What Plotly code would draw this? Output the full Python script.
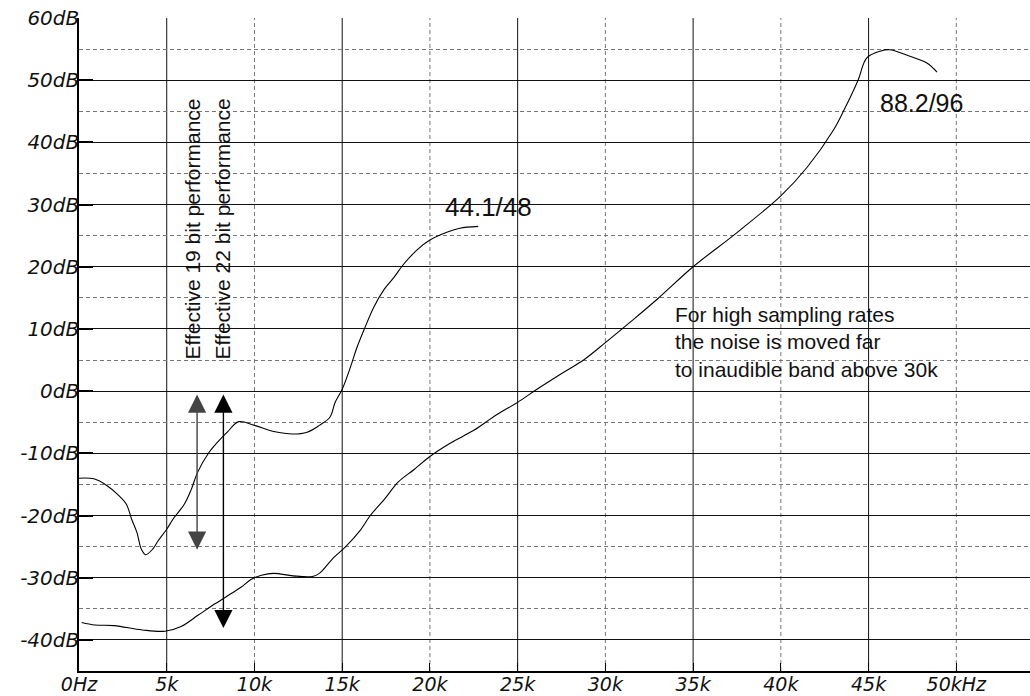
import plotly.graph_objects as go

# ---- data (kHz, dB) ----
x_4448 = [0, 0.85, 1.6, 2.2, 2.7, 3.0, 3.3, 3.55, 3.8, 4.2, 4.5, 5.0, 5.4, 6.0, 6.4, 6.75,
          7.35, 7.9, 8.45, 9.1, 10.0, 11.1, 12.2, 13.0, 13.7, 14.3, 14.6, 15.0, 15.5, 15.8,
          16.25, 16.8, 17.4, 17.95, 18.5, 19.3, 20.0, 21.0, 21.7, 22.75]
y_4448 = [-14.0, -14.1, -15.2, -16.6, -18.2, -20.6, -22.7, -25.4, -26.3, -25.4, -24.1, -22.2,
          -20.4, -18.2, -15.8, -13.1, -10.1, -8.2, -6.6, -4.9, -5.5, -6.5, -6.9, -6.6, -5.5,
          -4.2, -1.8, 0.3, 4.1, 6.7, 9.9, 13.5, 16.4, 18.3, 20.4, 22.8, 24.3, 25.6, 26.2, 26.5]

x_8896 = [0.15, 0.9, 2.0, 3.6, 4.9, 5.85, 6.8, 7.75, 8.7, 9.25, 9.8, 10.4, 11.1, 12.2, 13.3,
          13.7, 14.5, 15.2, 16.05, 16.6, 17.4, 18.2, 19.1, 20.0, 21.2, 22.5, 23.8, 25.0, 26.1,
          27.6, 28.8, 30.0, 31.5, 33.0, 35.0, 37.5, 40.0, 41.5, 43.0, 43.6, 44.4, 44.9, 45.7,
          46.2, 47.2, 48.3, 48.9]
y_8896 = [-37.2, -37.6, -37.7, -38.4, -38.6, -37.8, -36.0, -34.2, -32.5, -31.5, -30.3, -29.6,
          -29.3, -29.7, -29.8, -29.3, -26.8, -25.0, -22.3, -20.0, -17.4, -14.6, -12.6, -10.5,
          -8.3, -6.3, -3.8, -1.8, 0.3, 3.0, 5.1, 7.8, 11.3, 14.9, 20.0, 25.5, 31.4, 36.0, 42.0,
          45.2, 50.0, 53.6, 54.7, 54.9, 54.0, 52.8, 51.3]

x_tick_vals = [0, 5, 10, 15, 20, 25, 30, 35, 40, 45, 50]
x_tick_text = ["0Hz", "5k", "10k", "15k", "20k", "25k", "30k", "35k", "40k", "45k", "50kHz"]
y_tick_vals = [-40, -30, -20, -10, 0, 10, 20, 30, 40, 50, 60]
y_tick_text = ["-40dB", "-30dB", "-20dB", "-10dB", "0dB", "10dB", "20dB", "30dB", "40dB", "50dB", "60dB"]

x_solid_grid = [5, 15, 25, 35, 45]
x_dash_grid = [10, 20, 30, 40, 50]

# arrows: (x, top dB, bottom dB)
arrow_x = [6.73, 8.23]
arrow_top = [-0.3, -0.3]
arrow_bottom = [-25.5, -38.1]
arrow_colors = ["#444444", "#000000"]
vert_labels = ["Effective 19 bit performance", "Effective 22 bit performance"]
vert_label_x = [6.45, 8.15]

XMAX = 54.2
YMIN, YMAX = -45, 60

AX_FONT_Y = dict(family="DejaVu Sans", size=20, color="#111", style="italic")
AX_FONT_X = dict(family="DejaVu Sans", size=19, color="#111", style="italic")
TXT_FAMILY = "Liberation Sans, Arial"

fig = go.Figure()
fig.add_trace(go.Scatter(x=x_4448, y=y_4448, mode="lines",
                         line=dict(color="black", width=1.1), line_shape="spline",
                         showlegend=False, hoverinfo="skip"))
fig.add_trace(go.Scatter(x=x_8896, y=y_8896, mode="lines",
                         line=dict(color="black", width=1.1), line_shape="spline",
                         showlegend=False, hoverinfo="skip"))

shapes = []
for gx in x_solid_grid:
    shapes.append(dict(type="line", xref="x", yref="y", x0=gx, x1=gx, y0=YMIN, y1=YMAX,
                       line=dict(color="#111111", width=1), layer="below"))
for gx in x_dash_grid:
    shapes.append(dict(type="line", xref="x", yref="y", x0=gx, x1=gx, y0=YMIN, y1=YMAX,
                       line=dict(color="#777777", width=1, dash="4px,3px"), layer="below"))

annotations = []
for ax_, yt, yb, c in zip(arrow_x, arrow_top, arrow_bottom, arrow_colors):
    annotations.append(dict(x=ax_, y=yb, ax=ax_, ay=yt, xref="x", yref="y", axref="x", ayref="y",
                            showarrow=True, arrowhead=2, arrowside="end+start", arrowsize=2.6,
                            arrowwidth=1.4, arrowcolor=c, text=""))
for lx, t in zip(vert_label_x, vert_labels):
    annotations.append(dict(x=lx, y=4.7, xref="x", yref="y", text=t, textangle=-90,
                            showarrow=False, xanchor="center", yanchor="bottom",
                            font=dict(family=TXT_FAMILY, size=21, color="#111")))
annotations.append(dict(x=20.75, y=29.6, xref="x", yref="y", text="44.1/48", showarrow=False,
                        xanchor="left", yanchor="middle",
                        font=dict(family=TXT_FAMILY, size=26, color="#111")))
annotations.append(dict(x=45.55, y=46.4, xref="x", yref="y", text="88.2/96", showarrow=False,
                        xanchor="left", yanchor="middle",
                        font=dict(family=TXT_FAMILY, size=25, color="#111")))
annotations.append(dict(x=33.85, y=7.95, xref="x", yref="y",
                        text="For high sampling rates<br>the noise is moved far<br>to inaudible band above 30k",
                        showarrow=False, xanchor="left", yanchor="middle", align="left",
                        font=dict(family=TXT_FAMILY, size=21, color="#111")))

fig.update_layout(
    width=1030, height=696,
    margin=dict(l=79, r=0, t=18, b=25, autoexpand=False),
    paper_bgcolor="white", plot_bgcolor="white",
    shapes=shapes, annotations=annotations,
    showlegend=False,
)
fig.update_xaxes(range=[0, XMAX], tickvals=x_tick_vals, ticktext=x_tick_text,
                 showgrid=False, zeroline=False, showline=True, linecolor="black", linewidth=1.5,
                 ticks="inside", ticklen=8, tickcolor="black", automargin=False,
                 ticklabelstandoff=-5, tickfont=AX_FONT_X)
fig.update_yaxes(range=[YMIN, YMAX], tickvals=y_tick_vals, ticktext=y_tick_text,
                 showgrid=True, gridcolor="#111111", gridwidth=1, zeroline=False,
                 showline=True, linecolor="black", linewidth=1.5,
                 ticks="inside", ticklen=14, tickcolor="black", tickwidth=2, automargin=False,
                 ticklabelstandoff=-6, tickfont=AX_FONT_Y,
                 minor=dict(tickvals=[-35, -25, -15, -5, 5, 15, 25, 35, 45, 55], showgrid=True,
                            gridcolor="#777777", griddash="4px,3px", gridwidth=1, ticks=""))

fig.write_html("out.html", config={"displayModeBar": False},
               post_script="document.body.style.margin='0';")
